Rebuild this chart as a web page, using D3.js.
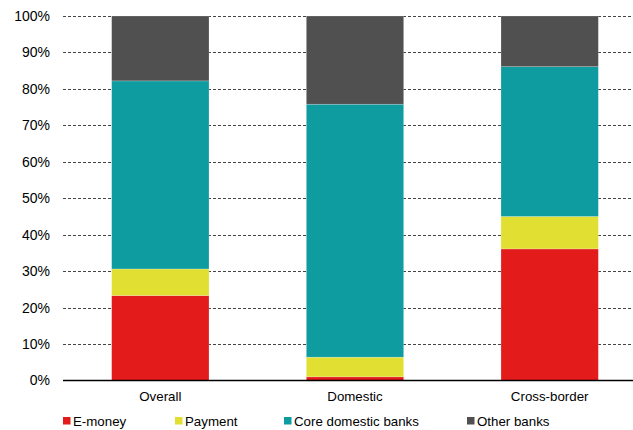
<!DOCTYPE html>
<html>
<head>
<meta charset="utf-8">
<script src="https://cdn.jsdelivr.net/npm/d3@7"></script>
<style>
  html, body { margin: 0; padding: 0; background: #fff; }
  svg { display: block; font-family: "Liberation Sans", Arial, sans-serif; }
</style>
</head>
<body>
<svg id="chart" width="633" height="430"></svg>
<script>
// Share of transactions by provider type (%)
const categories = ["Overall", "Domestic", "Cross-border"];
const seriesNames = ["E-money", "Payment", "Core domestic banks", "Other banks"];
const eMoney      = [23.3, 1.0, 36.1];
const payment     = [7.3, 5.4, 8.9];
const coreBanks   = [51.6, 69.4, 41.1];
const otherBanks  = [17.8, 24.2, 13.9];
const yTicks = [0, 10, 20, 30, 40, 50, 60, 70, 80, 90, 100];
const colors = ["#e31b1b", "#e1e032", "#0e9ca1", "#505050"];

const rows = categories.map((c, i) => ({
  cat: c,
  "E-money": eMoney[i],
  "Payment": payment[i],
  "Core domestic banks": coreBanks[i],
  "Other banks": otherBanks[i]
}));

const svg = d3.select("#chart");
const x = d3.scaleBand().domain(categories).range([63, 647]).paddingInner(0.5).paddingOuter(0.25);
const y = d3.scaleLinear().domain([0, 100]).range([380.5, 16]);

// Gridlines
svg.append("g")
  .selectAll("line")
  .data(yTicks.filter(d => d > 0))
  .join("line")
  .attr("x1", 63).attr("x2", 633)
  .attr("y1", d => Math.round(y(d)) + 0.5).attr("y2", d => Math.round(y(d)) + 0.5)
  .attr("stroke", "#444").attr("stroke-width", 1)
  .attr("stroke-dasharray", "3,2");

// Y axis labels
const yAxis = d3.axisLeft(y).tickValues(yTicks).tickFormat(d => d + "%").tickSize(0).tickPadding(0);
svg.append("g")
  .attr("transform", "translate(50,0)")
  .call(yAxis)
  .call(g => g.select(".domain").remove())
  .call(g => g.selectAll("text").attr("font-size", 14).attr("fill", "#000")
    .attr("font-family", "Liberation Sans, Arial, sans-serif"));

// Stacked bars
const stack = d3.stack().keys(seriesNames);
const stacked = stack(rows);
svg.append("g")
  .selectAll("g")
  .data(stacked)
  .join("g")
  .attr("fill", (d, i) => colors[i])
  .selectAll("rect")
  .data(d => d)
  .join("rect")
  .attr("x", d => x(d.data.cat))
  .attr("width", x.bandwidth())
  .attr("y", d => y(d[1]))
  .attr("height", d => y(d[0]) - y(d[1]))
  .attr("stroke", "rgba(255,255,255,0.35)")
  .attr("stroke-width", 0.6);

// X axis
const xAxis = d3.axisBottom(x).tickSize(0).tickPadding(11);
svg.append("g")
  .attr("transform", "translate(0,380.5)")
  .call(xAxis)
  .call(g => g.select(".domain").remove())
  .call(g => g.selectAll("text").attr("font-size", 13.3).attr("fill", "#000")
    .attr("font-family", "Liberation Sans, Arial, sans-serif"));
svg.append("line")
  .attr("x1", 63).attr("x2", 633)
  .attr("y1", 380.5).attr("y2", 380.5)
  .attr("stroke", "#000").attr("stroke-width", 1.5);

// Legend
const legendX = [63, 175, 284, 467];
const legend = svg.append("g")
  .selectAll("g")
  .data(seriesNames)
  .join("g")
  .attr("transform", (d, i) => `translate(${legendX[i]},421)`);
legend.append("rect")
  .attr("x", 0).attr("y", -4).attr("width", 7.5).attr("height", 7.5)
  .attr("fill", (d, i) => colors[i]);
legend.append("text")
  .attr("x", 10).attr("y", 0).attr("dy", "0.35em")
  .attr("font-size", 13.3).attr("fill", "#000")
  .text(d => d);
</script>
</body>
</html>
